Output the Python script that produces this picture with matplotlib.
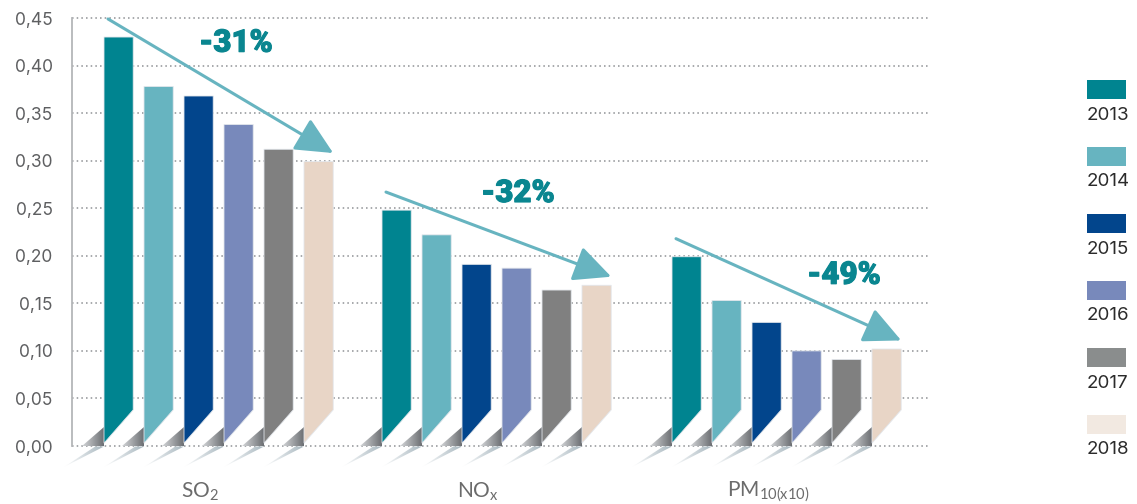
import numpy as np
import matplotlib
matplotlib.use("Agg")
import matplotlib.pyplot as plt
import matplotlib.patheffects as pe
from matplotlib.patches import Polygon, Rectangle
from matplotlib.colors import LinearSegmentedColormap

plt.rcParams['font.family'] = ['Lato', 'DejaVu Sans']
plt.rcParams['mathtext.fontset'] = 'custom'
plt.rcParams['mathtext.rm'] = 'Lato'
plt.rcParams['mathtext.default'] = 'regular'
WIDE = ['Inter', 'Lato', 'DejaVu Sans']
HEAVY = ['Roboto', 'Lato', 'DejaVu Sans']

# data
years = ['2013', '2014', '2015', '2016', '2017', '2018']
pollutants = ['SO$_2$', 'NO$_x$', 'PM$_{10(x10)}$']
so2 = [0.430, 0.378, 0.368, 0.338, 0.312, 0.299]
nox = [0.248, 0.222, 0.191, 0.187, 0.164, 0.169]
pm10 = [0.199, 0.153, 0.130, 0.100, 0.091, 0.102]
changes = ['-31%', '-32%', '-49%']
yticks = [0.00, 0.05, 0.10, 0.15, 0.20, 0.25, 0.30, 0.35, 0.40, 0.45]

bar_colors = ['#008490', '#67b4c0', '#02458c', '#7889bb', '#808080', '#e8d5c6']
legend_colors = ['#008490', '#67b4c0', '#02458c', '#7889bb', '#8a8d8d', '#f2e9e1']
teal = '#0a8690'
arrow_col = '#67b4c0'

# layout (x in units of one bar pitch)
group_start = [0.8, 7.75, 15.0]
bar_w = 0.73
chamfer = 0.038
label_pos = [(3.3, 0.424), (3.4, 0.266), (4.3, 0.180)]

W, H = 1137, 504
fig = plt.figure(figsize=(W / 100, H / 100), dpi=100)
ax = fig.add_axes([60 / W, 34.2 / H, 870 / W, 451.8 / H])


def gradient_fill(verts, c0, c1, z):
    xs = [v[0] for v in verts]
    ys = [v[1] for v in verts]
    cmap = LinearSegmentedColormap.from_list('g', [c0, c1])
    grad = np.linspace(0, 1, 64).reshape(1, -1)
    im = ax.imshow(grad, extent=(min(xs), max(xs), min(ys), max(ys)), cmap=cmap,
                   aspect='auto', origin='lower', interpolation='bilinear', zorder=z)
    poly = Polygon(verts, closed=True, fc='none', ec='none', transform=ax.transData)
    ax.add_patch(poly)
    im.set_clip_path(poly)


# dotted grid
ax.hlines(yticks, 0, 21.45, colors='#a7a9ac', linestyles=(0, (0.8, 1.6)), lw=1.4,
          zorder=0.5, clip_on=False)

series = [so2, nox, pm10]
for g, vals in enumerate(series):
    x0 = group_start[g]
    for i, v in enumerate(vals):
        L = x0 + i
        R = L + bar_w
        # shadow triangle and streak
        gradient_fill([(L - 0.55, 0), (L, 0.02), (L, 0)], '#d4d6d8', '#6c6f73', 1)
        gradient_fill([(L - 1.0, -0.022), (L - 0.22, -0.0005), (L, -0.0005)],
                      '#ffffff', '#a9b8c0', 1)
        ax.add_patch(Polygon([(L, v), (R, v), (R, chamfer), (L, 0.003)], closed=True,
                             fc=bar_colors[i], ec='#e3e7ec', lw=0.6, zorder=2))
    # trend arrow
    start = (x0 + 0.1, vals[0] + 0.019)
    end = (x0 + len(vals) - 1 + bar_w, vals[-1] + 0.009)
    ax.annotate('', xy=end, xytext=start,
                arrowprops=dict(arrowstyle='-|>,head_length=2.3,head_width=1.1',
                                color=arrow_col, lw=2.2, mutation_scale=10,
                                shrinkA=0, shrinkB=0),
                zorder=3, annotation_clip=False)
    dx, ly = label_pos[g]
    ax.text(x0 + dx, ly, changes[g], ha='center', va='center', fontsize=22.5,
            fontweight='black', color=teal, zorder=4, family=HEAVY,
            path_effects=[pe.withStroke(linewidth=0.8, foreground=teal)])
    ax.text(x0 + 2.4, -0.048, pollutants[g], ha='center', va='center', fontsize=15,
            color='#6b6b6b', clip_on=False)

ax.set_xlim(-0.3, 21.45)
ax.set_ylim(-0.025, 0.45)
for s in ['top', 'right', 'bottom']:
    ax.spines[s].set_visible(False)
ax.spines['left'].set_position(('data', 0))
ax.spines['left'].set_bounds(0, 0.45)
ax.spines['left'].set_color('#b4b6b9')
ax.spines['left'].set_linewidth(1.3)
ax.set_xticks([])
ax.set_yticks(yticks)
ax.set_yticklabels([f'{t:.2f}'.replace('.', ',') for t in yticks], family=WIDE)
ax.tick_params(axis='y', length=0, pad=14, labelsize=12.5, labelcolor='#5e5f61')

# legend: swatch above the year
for i, yr in enumerate(years):
    top = 80 + 67 * i
    fig.add_artist(Rectangle((1087 / W, 1 - (top + 19) / H), 39 / W, 19 / H,
                             transform=fig.transFigure, fc=legend_colors[i], ec='none'))
    fig.text(1087 / W, 1 - (top + 35) / H, yr, ha='left', va='center', fontsize=13.5,
             color='#2b2b2b', family=WIDE)

fig.savefig('out.png', dpi=100)
